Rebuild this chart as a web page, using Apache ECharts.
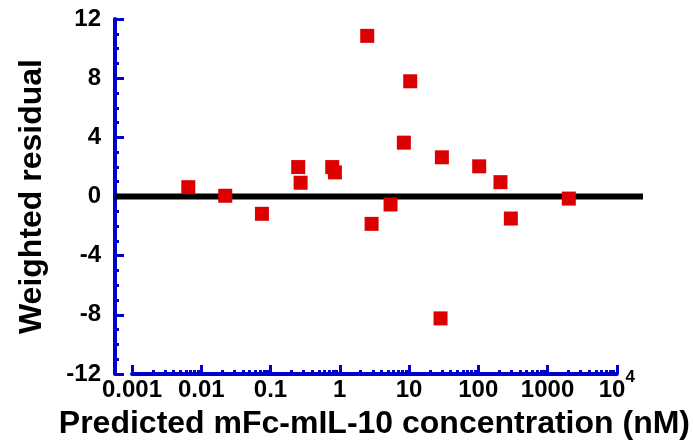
<!DOCTYPE html>
<html>
<head>
<meta charset="utf-8">
<script src="https://cdn.jsdelivr.net/npm/echarts@6/dist/echarts.min.js"></script>
<style>
  html, body { margin: 0; padding: 0; background: #fff; }
  #chart { width: 693px; height: 445px; }
</style>
</head>
<body>
<div id="chart"></div>
<script>
// predicted concentration (nM) and weighted residual
var concX = [0.0065, 0.0222, 0.0752, 0.251, 0.272, 0.778, 0.851, 2.49, 2.88, 5.41, 8.42, 10.4, 29.8, 28.5, 103, 209, 295, 2027];
var residual = [0.63, 0.05, -1.17, 1.99, 0.93, 1.99, 1.63, 10.86, -1.85, -0.54, 3.64, 7.79, 2.65, -8.24, 2.04, 0.97, -1.49, -0.14];
var xTickLabels = ['{b|0.001}', '{b|0.01}', '{b|0.1}', '{b|1}', '{b|10}', '{b|100}', '{b|1000}', '{b|10}{s|4}'];
var yTicks = [-12, -8, -4, 0, 4, 8, 12];

var blue = '#0000cc';
var font = '"Liberation Sans", Arial, sans-serif';

var points = concX.map(function (x, i) { return [x, residual[i]]; });

var chart = echarts.init(document.getElementById('chart'));
chart.setOption({
  animation: false,
  grid: [
    { left: 115, right: 50, top: 19, bottom: 71 },
    { left: 132, right: 76, top: 19, bottom: 71 }
  ],
  xAxis: [
    { gridIndex: 0, type: 'value', min: 0, max: 1, show: false },
    {
      gridIndex: 1, type: 'log', logBase: 10, min: 0.001, max: 10000,
      axisLine: { show: true, onZero: false, lineStyle: { color: blue, width: 4 } },
      axisTick: { show: true, inside: true, length: 9, lineStyle: { color: blue, width: 3 } },
      minorTick: { show: true, splitNumber: 9, length: 4, lineStyle: { color: blue, width: 3 } },
      splitLine: { show: false },
      axisLabel: {
        margin: -5, color: '#000', fontFamily: font,
        formatter: function (v) {
          var i = Math.round(Math.log(v) / Math.LN10) + 3;
          return xTickLabels[i] || '';
        },
        rich: {
          b: { fontSize: 24, fontWeight: 'bold', fontFamily: font, color: '#000', padding: [9, 0, 0, 0] },
          s: { fontSize: 17, fontWeight: 'bold', fontFamily: font, color: '#000', padding: [0, 0, 16, 0] }
        }
      },
      name: 'Predicted mFc-mIL-10 concentration (nM)',
      nameLocation: 'middle', nameGap: 34,
      nameTextStyle: { color: '#000', fontSize: 32, fontWeight: 'bold', fontFamily: font }
    }
  ],
  yAxis: [
    {
      gridIndex: 0, type: 'value', min: -12, max: 12, interval: 4,
      axisLine: { show: true, lineStyle: { color: blue, width: 4 } },
      axisTick: { show: true, inside: true, length: 9, lineStyle: { color: blue, width: 3 } },
      minorTick: { show: true, splitNumber: 4, length: 4, lineStyle: { color: blue, width: 3 } },
      splitLine: { show: false },
      axisLabel: {
        margin: 14, color: '#000', fontSize: 24, fontWeight: 'bold', fontFamily: font,
        formatter: function (v) { return yTicks.indexOf(v) >= 0 ? String(v) : ''; }
      },
      name: 'Weighted residual',
      nameLocation: 'middle', nameGap: 67,
      nameTextStyle: { color: '#000', fontSize: 32, fontWeight: 'bold', fontFamily: font }
    },
    { gridIndex: 1, type: 'value', min: -12, max: 12, show: false }
  ],
  series: [
    {
      type: 'line', xAxisIndex: 0, yAxisIndex: 0,
      data: [[0, 0], [1, 0]], symbol: 'none', silent: true,
      lineStyle: { color: '#000', width: 6 }, z: 1
    },
    {
      type: 'scatter', xAxisIndex: 1, yAxisIndex: 1,
      data: points, symbol: 'rect', symbolSize: 14,
      itemStyle: { color: '#dd0000', opacity: 1 }, z: 5
    }
  ]
});
</script>
</body>
</html>
